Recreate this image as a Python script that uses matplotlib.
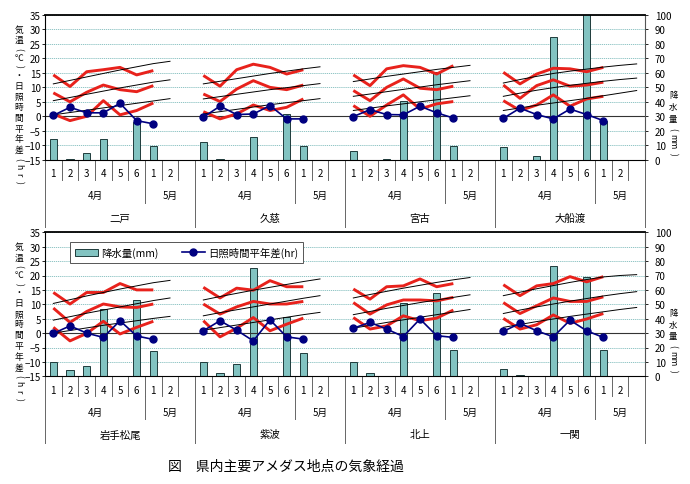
import numpy as np
import matplotlib
matplotlib.use("Agg")
import matplotlib.pyplot as plt
from matplotlib.patches import Patch
from matplotlib.lines import Line2D

plt.rcParams["font.family"] = ["Noto Sans CJK JP", "DejaVu Sans"]

stations = ["二戸", "久慈", "宮古", "大船渡", "岩手松尾", "紫波", "北上", "一関"]
week_labels = ["1", "2", "3", "4", "5", "6", "1", "2"]
month_labels = ["4月", "5月"]

# 降水量 (mm), 4月1-6半旬 + 5月1半旬
rain = [
    [14.3, 0.8, 4.6, 14.3, 0, 25.8, 9.7],
    [12.0, 0.7, 0, 15.4, 0, 31.5, 9.7],
    [6.0, 0, 0.7, 40.8, 0, 60.8, 9.7],
    [9.0, 0, 2.3, 84.6, 0, 104.0, 26.5],
    [10.2, 4.6, 7.2, 46.8, 0, 53.2, 17.4],
    [9.7, 2.1, 8.6, 75.2, 0, 41.0, 16.2],
    [9.7, 2.1, 0, 50.9, 0, 57.6, 18.5],
    [4.9, 0.9, 0, 76.4, 0, 68.8, 18.3],
]
# 日照時間平年差 (hr)
sun_diff = [
    [0.3, 3.1, 1.2, 1.2, 4.5, -1.5, -2.6],
    [-0.3, 3.5, 0.6, 0.8, 3.7, -0.9, -0.9],
    [-0.1, 2.3, 0.6, 0.5, 3.5, 1.2, -0.6],
    [-0.7, 2.8, 0.6, -0.9, 2.5, 0.6, -1.5],
    [-0.1, 2.5, 0.0, -1.5, 4.3, -1.0, -2.2],
    [0.8, 4.3, 1.0, -2.7, 4.6, -1.3, -2.1],
    [1.7, 3.7, 1.4, -1.2, 4.9, -0.9, -1.5],
    [0.6, 3.4, 0.8, -1.3, 4.5, 0.8, -1.5],
]
# 気温 (℃): 最高・平均・最低
t_max = [
    [14.3, 10.3, 15.4, 16.1, 16.9, 14.3, 15.8],
    [14.1, 10.4, 16.1, 18.0, 16.9, 14.6, 16.1],
    [14.3, 10.6, 16.4, 17.5, 16.9, 14.6, 17.5],
    [15.2, 11.2, 14.6, 16.6, 16.4, 15.4, 16.9],
    [14.1, 10.1, 14.1, 14.1, 17.2, 15.0, 15.0],
    [15.9, 12.2, 15.6, 14.9, 18.2, 16.1, 16.1],
    [15.3, 11.8, 16.1, 16.4, 18.8, 16.1, 17.2],
    [16.8, 13.0, 16.4, 17.2, 19.6, 17.8, 19.6],
]
t_mean = [
    [8.1, 5.0, 8.3, 10.8, 9.2, 8.5, 10.6],
    [7.7, 5.1, 9.4, 12.3, 10.0, 9.2, 10.8],
    [8.9, 5.4, 10.0, 12.9, 9.7, 9.2, 10.4],
    [10.8, 6.2, 10.6, 12.6, 10.4, 10.8, 11.8],
    [8.7, 3.7, 7.5, 10.1, 9.1, 8.9, 10.1],
    [10.1, 6.6, 9.1, 11.0, 10.1, 10.1, 11.0],
    [10.6, 6.6, 9.8, 11.5, 11.5, 11.2, 12.4],
    [10.6, 6.8, 9.5, 12.2, 11.0, 11.0, 12.6],
]
t_min = [
    [0.8, -1.5, 0.0, 5.4, 0.5, 2.0, 4.6],
    [1.6, -0.9, 0.8, 3.9, 2.0, 3.1, 6.0],
    [3.7, 0.0, 3.9, 7.4, 2.5, 4.3, 5.1],
    [5.4, 2.0, 3.9, 7.4, 3.5, 6.0, 6.9],
    [2.0, -2.7, -0.1, 4.1, -0.3, 2.0, 4.1],
    [4.3, -1.3, 1.7, 5.4, 0.8, 3.1, 5.2],
    [5.4, 1.4, 2.5, 6.0, 4.3, 5.2, 8.0],
    [5.1, 1.4, 2.9, 6.3, 3.4, 4.9, 6.8],
]
# 平年値 (℃)
norm_max = [
    [11.2, 12.4, 13.6, 14.8, 16.0, 17.1, 18.2, 19.0],
    [11.2, 12.1, 13.0, 13.9, 14.8, 15.6, 16.4, 17.1],
    [12.0, 12.9, 13.8, 14.6, 15.4, 16.2, 16.9, 17.6],
    [11.5, 12.7, 13.8, 14.8, 15.6, 16.3, 17.0, 17.6, 18.1],
    [10.3, 11.6, 12.9, 14.1, 15.3, 16.4, 17.5, 18.3],
    [11.5, 12.7, 13.8, 14.9, 15.9, 16.9, 17.9, 18.8],
    [12.2, 13.4, 14.5, 15.6, 16.6, 17.6, 18.5, 19.3],
    [13.0, 14.2, 15.4, 16.5, 17.6, 18.6, 19.5, 20.0, 20.3],
]
norm_mean = [
    [5.4, 6.5, 7.6, 8.7, 9.8, 10.8, 11.8, 12.6],
    [6.0, 6.8, 7.6, 8.4, 9.2, 9.9, 10.6, 11.3],
    [6.9, 7.7, 8.5, 9.3, 10.1, 10.9, 11.6, 12.3],
    [6.9, 8.0, 9.0, 9.9, 10.7, 11.4, 12.1, 12.7, 13.2],
    [4.5, 5.7, 6.9, 8.0, 9.1, 10.2, 11.3, 12.2],
    [6.0, 7.1, 8.1, 9.1, 10.1, 11.1, 12.1, 13.0],
    [6.4, 7.5, 8.6, 9.6, 10.6, 11.5, 12.4, 13.3],
    [6.8, 8.0, 9.1, 10.1, 11.1, 12.0, 12.9, 13.7, 14.4],
]
norm_min = [
    [0.5, 1.3, 2.1, 2.9, 3.7, 4.5, 5.3, 6.1],
    [0.8, 1.6, 2.4, 3.2, 4.0, 4.7, 5.4, 6.1],
    [2.0, 2.8, 3.6, 4.3, 5.0, 5.7, 6.4, 7.1],
    [2.0, 2.9, 3.8, 4.6, 5.4, 6.2, 7.1, 8.0, 8.9],
    [0.0, 0.9, 1.8, 2.7, 3.5, 4.3, 5.1, 5.8],
    [1.0, 1.9, 2.8, 3.7, 4.6, 5.5, 6.4, 7.2],
    [1.7, 2.7, 3.7, 4.6, 5.5, 6.4, 7.3, 8.2],
    [2.0, 3.0, 4.0, 4.9, 5.8, 6.6, 7.4, 8.2, 8.9],
]

W, H = 690, 485
SLOTS = 9
BAR_COLOR = "#82c3c1"
RED = "#e8221c"
NAVY = "#000080"
GRID = "#7fbcbc"

fig = plt.figure(figsize=(W / 100, H / 100), dpi=100)


def vtext(x_px, y0_px, y1_px, parts, size):
    # 縦書きの軸タイトル (括弧と英字は回転)
    adv = []
    for p in parts:
        if p in "()":
            adv.append(0.6)
        elif p.isascii():
            adv.append(0.75 * len(p))
        else:
            adv.append(1.0)
    pos = [0.0]
    for i in range(1, len(parts)):
        pos.append(pos[-1] + (adv[i - 1] + adv[i]) / 2)
    scale = (y1_px - y0_px) / pos[-1]
    for p, q in zip(parts, pos):
        rot = -90 if p.isascii() else 0
        fig.text(x_px / W, 1 - (y0_px + q * scale) / H, p, rotation=rot,
                 ha="center", va="center", fontsize=size)


left_title = list("気温(℃)・日照時間平年差(hr)")
right_title = ["降", "水", "量", "(", "mm", ")"]

rows = [(16, 160.7), (233.3, 377.3)]
for r, (top, bot) in enumerate(rows):
    h = bot - top
    ax = fig.add_axes([45 / W, 1 - bot / H, 600 / W, h / H])
    ax2 = ax.twinx()
    ax.set_zorder(ax2.get_zorder() + 1)
    ax.patch.set_visible(False)

    ax.set_xlim(-0.5, 4 * SLOTS - 0.5)
    ax.set_ylim(-15, 35)
    ax2.set_ylim(0, 100)
    ax.set_yticks(range(-15, 36, 5))
    ax2.set_yticks(range(0, 101, 10))
    ax2.set_xticks(np.arange(0.5, 4 * SLOTS - 0.5, 1))
    ax.tick_params(axis="x", bottom=False, labelbottom=False)
    ax2.tick_params(axis="x", bottom=False, labelbottom=False)
    ax.tick_params(axis="y", direction="out", length=2, width=0.6,
                   labelsize=7, pad=1)
    ax2.tick_params(axis="y", direction="out", length=2, width=0.6,
                    labelsize=7, pad=5)
    ax2.set_axisbelow(True)
    ax2.grid(True, color=GRID, lw=0.6, ls=(0, (1.5, 1)))
    ax.grid(False)

    for sp in ["left", "top", "bottom"]:
        ax2.spines[sp].set_visible(False)
    ax.spines["right"].set_visible(False)
    ax.spines["top"].set_linewidth(1.3)
    ax.spines["left"].set_linewidth(0.8)
    ax.spines["bottom"].set_linewidth(0.8)
    ax2.spines["right"].set_color("#555555")
    ax2.spines["right"].set_linewidth(0.8)
    ax.axhline(0, color="#333333", lw=0.8, zorder=1)

    trans = ax.get_xaxis_transform()
    for j in range(4):
        s = r * 4 + j
        x0 = j * SLOTS
        xs = x0 + np.arange(len(rain[s]))

        vals = np.array(rain[s])
        keep = vals > 0
        ax2.bar(xs[keep], vals[keep], width=0.45, color=BAR_COLOR,
                edgecolor="#1e3b3b", linewidth=0.7, zorder=2)

        for t in (t_max[s], t_mean[s], t_min[s]):
            ax.plot(x0 + np.arange(len(t)), t, color=RED, lw=2.1, zorder=3,
                    solid_capstyle="butt")
        for nrm in (norm_max[s], norm_mean[s], norm_min[s]):
            ax.plot(x0 + np.arange(len(nrm)), nrm, color="black", lw=0.7,
                    zorder=4)
        ax.plot(x0 + np.arange(len(sun_diff[s])), sun_diff[s], color=NAVY,
                lw=1.2, marker="o", ms=5, zorder=5)

        # 多段の項目軸
        for k, lab in enumerate(week_labels):
            ax.text(x0 + k, -13.5 / h, lab, transform=trans, ha="center",
                    va="center", fontsize=7)
            ax.plot([x0 + k + 0.5] * 2, [0, -20 / h], transform=trans,
                    clip_on=False, color="#666666", lw=0.7)
        ax.text(x0 + 2.5, -35.5 / h, month_labels[0], transform=trans,
                ha="center", va="center", fontsize=7)
        ax.text(x0 + 7, -35.5 / h, month_labels[1], transform=trans,
                ha="center", va="center", fontsize=7)
        ax.plot([x0 + 5.5] * 2, [-20 / h, -43 / h], transform=trans,
                clip_on=False, color="#666666", lw=0.7)
        ax.text(x0 + 4, -58 / h, stations[s], transform=trans, ha="center",
                va="center", fontsize=7.5)
    for j in range(5):
        ax.plot([j * SLOTS - 0.5] * 2, [0, -67 / h], transform=trans,
                clip_on=False, color="#666666", lw=0.7)

    vtext(19, top + 14, top + 166, left_title, 6.3)
    vtext(673, top + 80, top + 138, right_title, 6.0)

    if r == 1:
        handles = [
            Patch(facecolor=BAR_COLOR, edgecolor="#1e3b3b", linewidth=0.7),
            Line2D([], [], color=NAVY, lw=1.2, marker="o", ms=5),
        ]
        leg = ax.legend(handles, ["降水量(mm)", "日照時間平年差(hr)"],
                        loc="upper left", bbox_to_anchor=(20 / 600, 1 - 4 / h),
                        ncol=2, fontsize=7.5, frameon=True, fancybox=False,
                        edgecolor="#555555", framealpha=1, handlelength=2.2,
                        columnspacing=2.2, borderpad=0.5, handletextpad=0.3)
        leg.get_frame().set_linewidth(0.7)

fig.text(168 / W, 1 - 467 / H, "図　県内主要アメダス地点の気象経過",
         fontsize=10, ha="left", va="center")

fig.savefig("out.png", dpi=100)
